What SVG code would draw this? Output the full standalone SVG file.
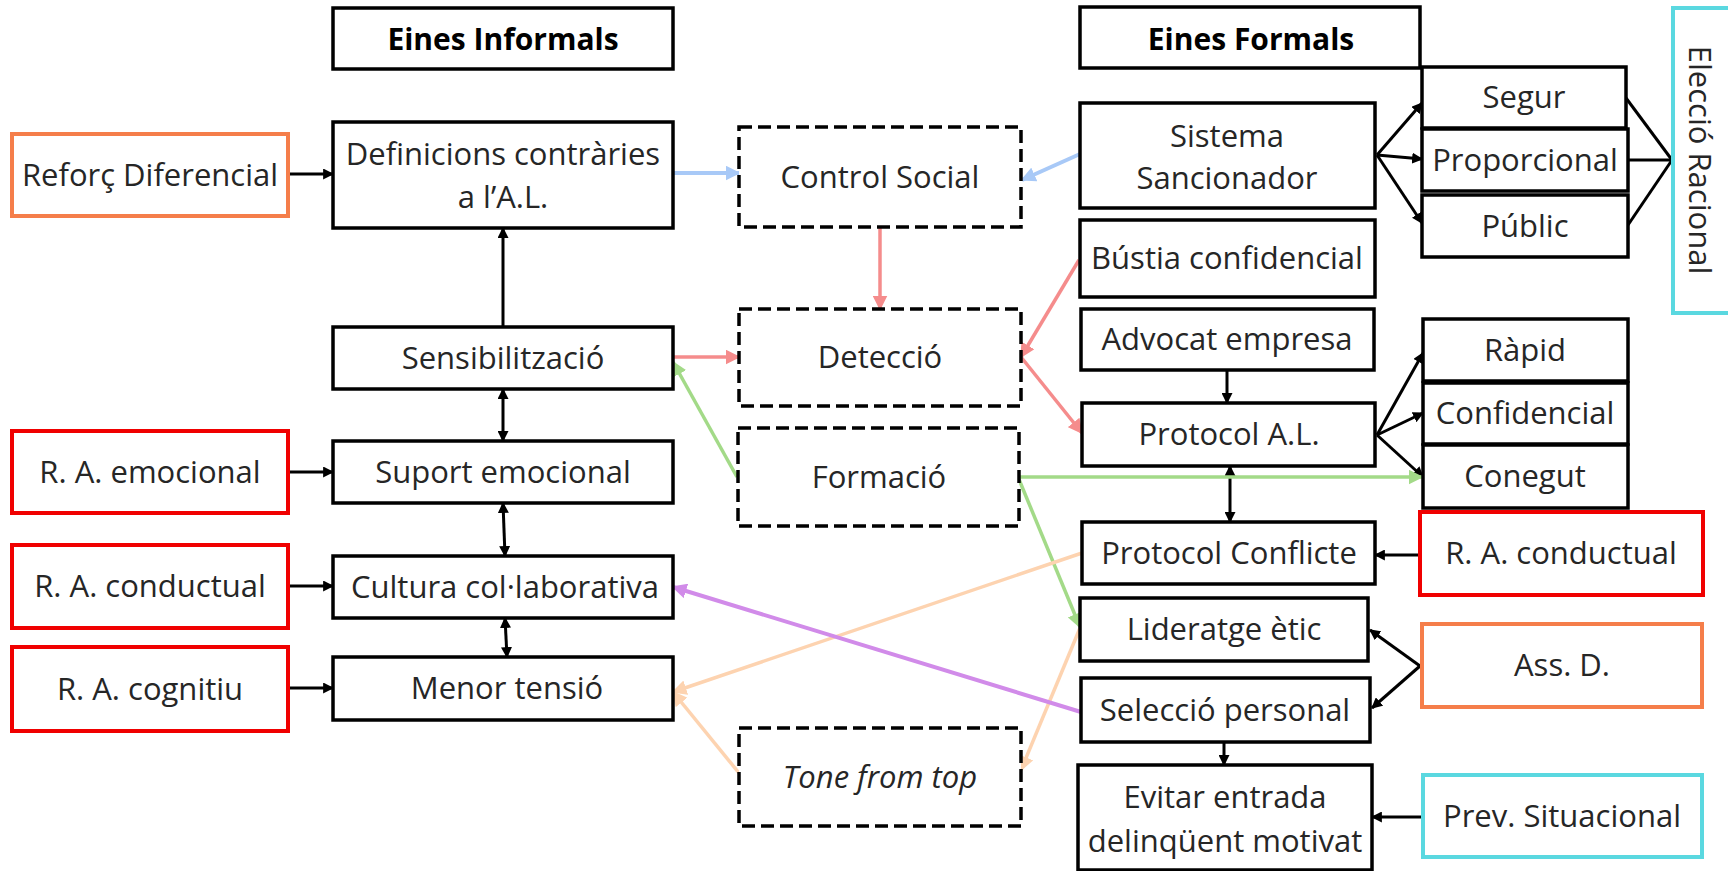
<svg xmlns="http://www.w3.org/2000/svg" width="1728" height="871" viewBox="0 0 1728 871">
<defs>
<style>
text{font-family:"Open Sans","Noto Sans","DejaVu Sans",sans-serif;font-size:31px;fill:#262626;text-anchor:middle}
.hdr{font-weight:bold;font-size:30px;fill:#000}
.it{font-style:italic}
.box{fill:#fff;stroke:#000;stroke-width:3.5}
.dash{fill:#fff;stroke:#000;stroke-width:3.5;stroke-dasharray:13 6}
.red{fill:#fff;stroke:#f00000;stroke-width:4}
.orange{fill:#fff;stroke:#f57e4a;stroke-width:4}
.cyan{fill:#fff;stroke:#5ad8e0;stroke-width:4}
.k{stroke:#000;stroke-width:3;fill:none}
.kh{stroke:#000;stroke-width:3;fill:none;marker-end:url(#ak)}
.kb{stroke:#000;stroke-width:3;fill:none;marker-end:url(#ak);marker-start:url(#ak)}
.blue{stroke:#a8c9f7;stroke-width:4;fill:none;marker-end:url(#ab)}
.pink{stroke:#f58c8c;stroke-width:3.5;fill:none;marker-end:url(#ap)}
.green{stroke:#a3da88;stroke-width:3.5;fill:none;marker-end:url(#ag)}
.peach{stroke:#fdd3b0;stroke-width:3.5;fill:none;marker-end:url(#ao)}
.purple{stroke:#d18be9;stroke-width:4;fill:none;marker-end:url(#au)}
</style>
<marker id="ak" viewBox="0 0 10 10" refX="9" refY="5" markerUnits="userSpaceOnUse" markerWidth="11" markerHeight="11" orient="auto-start-reverse"><path d="M0,0 L10,5 L0,10 z" fill="#000"/></marker>
<marker id="ab" viewBox="0 0 10 10" refX="9" refY="5" markerUnits="userSpaceOnUse" markerWidth="15" markerHeight="15" orient="auto"><path d="M0,0 L10,5 L0,10 z" fill="#a8c9f7"/></marker>
<marker id="ap" viewBox="0 0 10 10" refX="9" refY="5" markerUnits="userSpaceOnUse" markerWidth="15" markerHeight="15" orient="auto"><path d="M0,0 L10,5 L0,10 z" fill="#f58c8c"/></marker>
<marker id="ag" viewBox="0 0 10 10" refX="9" refY="5" markerUnits="userSpaceOnUse" markerWidth="15" markerHeight="15" orient="auto"><path d="M0,0 L10,5 L0,10 z" fill="#a3da88"/></marker>
<marker id="ao" viewBox="0 0 10 10" refX="9" refY="5" markerUnits="userSpaceOnUse" markerWidth="15" markerHeight="15" orient="auto"><path d="M0,0 L10,5 L0,10 z" fill="#fdd3b0"/></marker>
<marker id="au" viewBox="0 0 10 10" refX="9" refY="5" markerUnits="userSpaceOnUse" markerWidth="15" markerHeight="15" orient="auto"><path d="M0,0 L10,5 L0,10 z" fill="#d18be9"/></marker>
</defs>
<rect width="1728" height="871" fill="#fff"/>

<g id="connectors">
<line class="kh" x1="288" y1="174" x2="333" y2="174"/>
<line class="kh" x1="503" y1="327" x2="503" y2="228"/>
<line class="kb" x1="503" y1="389" x2="503" y2="441"/>
<line class="kb" x1="503" y1="503" x2="505" y2="556"/>
<line class="kb" x1="505" y1="618" x2="507" y2="657"/>
<line class="kh" x1="288" y1="472" x2="333" y2="472"/>
<line class="kh" x1="288" y1="586" x2="333" y2="586"/>
<line class="kh" x1="288" y1="688" x2="333" y2="688"/>
<line class="kh" x1="1377" y1="155" x2="1422" y2="103"/>
<line class="kh" x1="1377" y1="155" x2="1422" y2="159"/>
<line class="kh" x1="1377" y1="155" x2="1422" y2="223"/>
<line class="k" x1="1626" y1="98" x2="1672" y2="160"/>
<line class="k" x1="1628" y1="160" x2="1672" y2="160"/>
<line class="k" x1="1628" y1="225" x2="1672" y2="160"/>
<line class="kh" x1="1227" y1="370" x2="1227" y2="403"/>
<line class="kh" x1="1377" y1="435" x2="1423" y2="353"/>
<line class="kh" x1="1377" y1="435" x2="1423" y2="413"/>
<line class="kh" x1="1377" y1="435" x2="1423" y2="477"/>
<line class="kb" x1="1230" y1="466" x2="1230" y2="522"/>
<line class="kh" x1="1420" y1="555" x2="1375" y2="555"/>
<line class="kh" x1="1420" y1="666" x2="1370" y2="630"/>
<line class="kh" x1="1420" y1="666" x2="1372" y2="708"/>
<line class="kh" x1="1224" y1="742" x2="1224" y2="765"/>
<line class="kh" x1="1423" y1="817" x2="1372" y2="817"/>

<line class="blue" x1="673" y1="173" x2="739" y2="173"/>
<line class="blue" x1="1080" y1="154" x2="1022" y2="180"/>
<line class="pink" x1="880" y1="227" x2="880" y2="309"/>
<line class="pink" x1="673" y1="357" x2="739" y2="357"/>
<line class="pink" x1="1079" y1="260" x2="1021" y2="357"/>
<line class="pink" x1="1021" y1="357" x2="1082" y2="433"/>
<line class="green" x1="737" y1="477" x2="673" y2="362"/>
<line class="green" x1="1018" y1="477" x2="1422" y2="477"/>
<line class="green" x1="1018" y1="477" x2="1080" y2="627"/>
<line class="peach" x1="1082" y1="553" x2="673" y2="692"/>
<line class="peach" x1="739" y1="773" x2="673" y2="692"/>
<line class="peach" x1="1080" y1="628" x2="1021" y2="770"/>
<line class="purple" x1="1081" y1="712" x2="673" y2="587"/>
</g>

<g id="eines-informals"><rect class="box" x="333" y="8" width="340" height="61"/><text class="hdr" x="503" y="50">Eines Informals</text></g>
<g id="eines-formals"><rect class="box" x="1080" y="7" width="340" height="61"/><text class="hdr" x="1251" y="50">Eines Formals</text></g>

<g id="reforc"><rect class="orange" x="12" y="134" width="276" height="82"/><text x="150" y="186">Reforç Diferencial</text></g>
<g id="definicions"><rect class="box" x="333" y="122" width="340" height="106"/><text x="503" y="165">Definicions contràries</text><text x="503" y="208">a l’A.L.</text></g>
<g id="sensibilitzacio"><rect class="box" x="333" y="327" width="340" height="62"/><text x="503" y="369">Sensibilització</text></g>
<g id="ra-emocional"><rect class="red" x="12" y="431" width="276" height="82"/><text x="150" y="483">R. A. emocional</text></g>
<g id="suport"><rect class="box" x="333" y="441" width="340" height="62"/><text x="503" y="483">Suport emocional</text></g>
<g id="ra-conductual-l"><rect class="red" x="12" y="545" width="276" height="83"/><text x="150" y="597">R. A. conductual</text></g>
<g id="cultura"><rect class="box" x="333" y="556" width="340" height="62"/><text x="505" y="598">Cultura col·laborativa</text></g>
<g id="ra-cognitiu"><rect class="red" x="12" y="647" width="276" height="84"/><text x="150" y="700">R. A. cognitiu</text></g>
<g id="menor"><rect class="box" x="333" y="657" width="340" height="63"/><text x="507" y="699">Menor tensió</text></g>

<g id="control-social"><rect class="dash" x="739" y="127" width="282" height="100"/><text x="880" y="188">Control Social</text></g>
<g id="deteccio"><rect class="dash" x="739" y="309" width="282" height="97"/><text x="880" y="368">Detecció</text></g>
<g id="formacio"><rect class="dash" x="738" y="428" width="281" height="98"/><text x="879" y="488">Formació</text></g>
<g id="tone"><rect class="dash" x="739" y="728" width="282" height="98"/><text class="it" x="880" y="788">Tone from top</text></g>

<g id="sistema"><rect class="box" x="1080" y="103" width="295" height="105"/><text x="1227" y="147">Sistema</text><text x="1227" y="189">Sancionador</text></g>
<g id="bustia"><rect class="box" x="1080" y="220" width="295" height="77"/><text x="1227" y="269">Bústia confidencial</text></g>
<g id="advocat"><rect class="box" x="1081" y="309" width="293" height="61"/><text x="1227" y="350">Advocat empresa</text></g>
<g id="protocol-al"><rect class="box" x="1082" y="403" width="293" height="63"/><text x="1229" y="445">Protocol A.L.</text></g>
<g id="protocol-conflicte"><rect class="box" x="1082" y="522" width="293" height="62"/><text x="1229" y="564">Protocol Conflicte</text></g>
<g id="lideratge"><rect class="box" x="1080" y="598" width="288" height="63"/><text x="1224" y="640">Lideratge ètic</text></g>
<g id="seleccio"><rect class="box" x="1081" y="678" width="289" height="64"/><text x="1225" y="721">Selecció personal</text></g>
<g id="evitar"><rect class="box" x="1078" y="765" width="294" height="105"/><text x="1225" y="808">Evitar entrada</text><text x="1225" y="852">delinqüent motivat</text></g>

<g id="segur"><rect class="box" x="1422" y="67" width="204" height="61"/><text x="1524" y="108">Segur</text></g>
<g id="proporcional"><rect class="box" x="1422" y="129" width="206" height="62"/><text x="1525" y="171">Proporcional</text></g>
<g id="public"><rect class="box" x="1422" y="195" width="206" height="62"/><text x="1525" y="237">Públic</text></g>
<g id="eleccio"><rect class="cyan" x="1673" y="8" width="80" height="305"/><text transform="translate(1689,160) rotate(90)" x="0" y="0">Elecció Racional</text></g>
<g id="rapid"><rect class="box" x="1423" y="319" width="205" height="62"/><text x="1525" y="361">Ràpid</text></g>
<g id="confidencial"><rect class="box" x="1423" y="383" width="205" height="61"/><text x="1525" y="424">Confidencial</text></g>
<g id="conegut"><rect class="box" x="1423" y="445" width="205" height="63"/><text x="1525" y="487">Conegut</text></g>
<g id="ra-conductual-r"><rect class="red" x="1420" y="512" width="283" height="83"/><text x="1561" y="564">R. A. conductual</text></g>
<g id="assd"><rect class="orange" x="1422" y="624" width="280" height="83"/><text x="1562" y="676">Ass. D.</text></g>
<g id="prev"><rect class="cyan" x="1423" y="775" width="279" height="82"/><text x="1562" y="827">Prev. Situacional</text></g>
</svg>
